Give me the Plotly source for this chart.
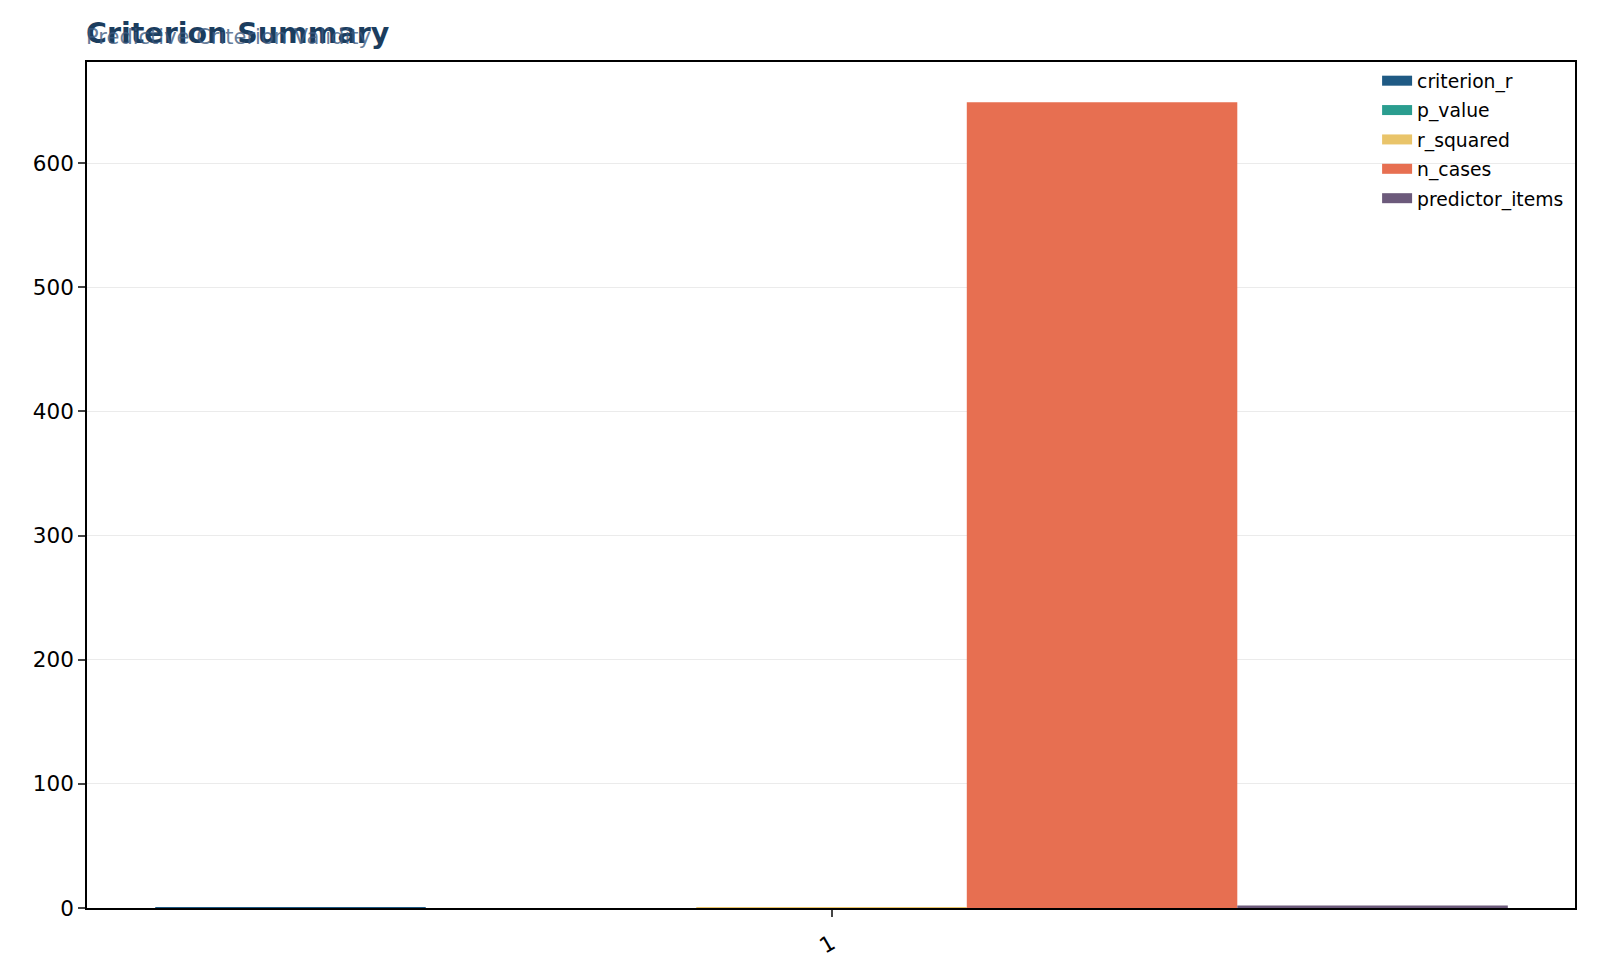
import plotly.graph_objects as go

# criterion summary data
categories = ["1"]
series_names = ["criterion_r", "p_value", "r_squared", "n_cases", "predictor_items"]
criterion_r = [0.6]
p_value = [0.0]
r_squared = [0.36]
n_cases = [649]
predictor_items = [2]

colors = ["#1f5a84", "#2a9d8f", "#e9c46a", "#e76f51", "#6c5a7b"]

fig = go.Figure()
for name, vals, col in zip(series_names,
                           [criterion_r, p_value, r_squared, n_cases, predictor_items],
                           colors):
    fig.add_trace(go.Bar(x=categories, y=vals, name=name, marker_color=col,
                         marker_line_width=0, showlegend=False))

# legend entries drawn as thick line swatches so they look like patches
for name, col in zip(series_names, colors):
    fig.add_trace(go.Scatter(x=[None], y=[None], mode="lines", name=name,
                             line=dict(color=col, width=13), legendgroup=name))

fig.update_layout(
    autosize=True,
    barmode="group", bargap=0.1, bargroupgap=0,
    plot_bgcolor="white", paper_bgcolor="white",
    margin=dict(l=79, r=17, t=54, b=62),
    font=dict(family="DejaVu Sans", size=21.5, color="black"),
    legend=dict(x=0.867, y=1.0, xanchor="left", yanchor="top",
                bgcolor="rgba(255,255,255,0)", font=dict(size=18.75),
                tracegroupgap=2, itemwidth=30),
)
fig.update_xaxes(type="category", range=[-0.4954, 0.4947], showline=True,
                 linecolor="black", linewidth=1.6, mirror=True, ticks="outside",
                 ticklen=7, tickwidth=1.6, tickangle=-30, ticklabelstandoff=6,
                 showgrid=False)
fig.update_yaxes(range=[0, 681.5], showline=True, linecolor="black", linewidth=1.6,
                 mirror=True, ticks="outside", ticklen=7, tickwidth=1.6, dtick=100,
                 showgrid=True, gridcolor="#ebebeb", gridwidth=1, zeroline=False)

# overlapping title and subtitle, as in the original
fig.add_annotation(text="<b>Criterion Summary</b>", xref="paper", yref="paper",
                   x=0, y=1.0, xshift=-3, yshift=10, xanchor="left", yanchor="bottom",
                   showarrow=False, font=dict(size=28.5, color="#1b3d5e"))
fig.add_annotation(text="Predictive Criterion Validity", xref="paper", yref="paper",
                   x=0, y=1.0, xshift=-3, yshift=11, xanchor="left", yanchor="bottom",
                   showarrow=False, font=dict(size=21, color="rgba(61,90,128,0.8)"))

fig.write_html("out.html", default_width="100%", default_height="100%")
